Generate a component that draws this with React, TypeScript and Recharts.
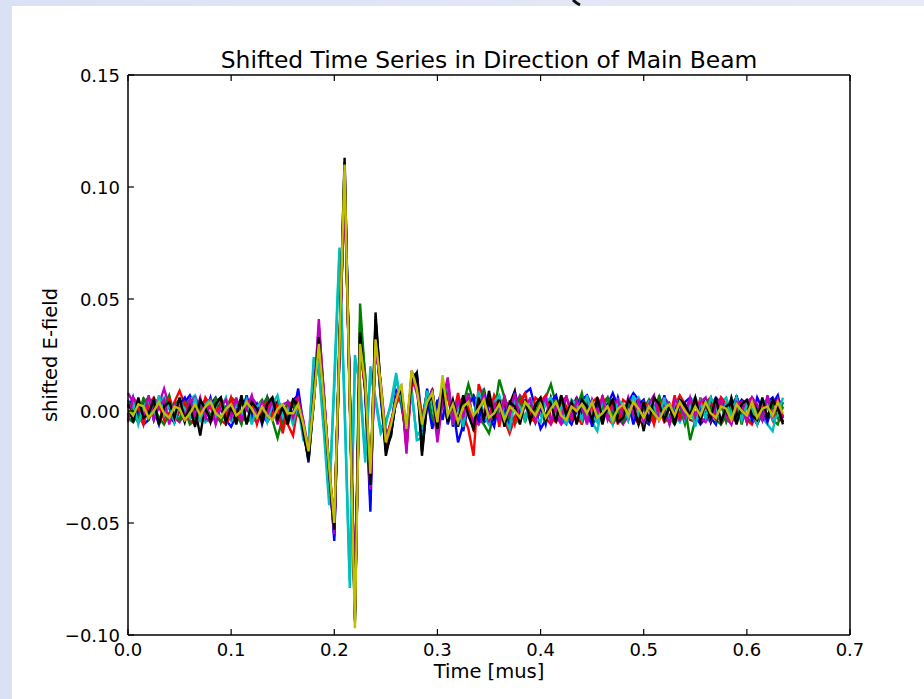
import { LineChart, Line, XAxis, YAxis } from 'recharts';

// sampling step, in ns (axis is in mus)
const SAMPLE_STEP_NS = 5;

// shifted E-field per antenna, in units of 0.001
const blueTrace = [
  3, 5, -1, -6, -4, 2, 6, 1, -3, -5, 0, 4, 7, 2, -4, -2,
  3, 6, 1, -4, -7, -2, 4, 5, -1, -3, 2, 6, 0, -5, -2, 4,
  -2, 10, -6, -23, 4, 34, 6, -26, -58, 27, 104, 8, -90, 30, 10, -45,
  40, 8, -16, -10, 5, 6, -9, 12, 17, -4, 6, -8, 3, 10, -6, 2,
  -14, -6, 4, 7, 2, -5, -3, 3, 6, -1, -7, -4, 2, 8, 10, 1,
  -8, -4, 3, 6, 1, -3, -6, 0, 5, 7, 2, -4, -2, 3, 8, 2,
  -3, 4, 8, 5, -4, -6, 1, 6, 2, -3, -5, -1, 4, 6, -2, -6,
  -3, 2, 6, 3, -4, -5, 0, 5, 3, -2, -6, -1, 4, 6, 1, -3,
];

const greenTrace = [
  -3, -5, 0, 4, 6, 2, -3, -6, -1, 3, 5, 1, -6, -4, 2, 5,
  3, -2, -5, 1, 6, 4, -2, -5, -3, 2, 5, 0, -4, -12, -3, 2,
  2, 5, -7, -19, 6, 33, 4, -27, -55, 29, 106, 7, -90, 48, 14, -32,
  32, 9, -12, -6, 8, 3, -11, 13, 10, -8, 4, 9, -7, 5, -4, 3,
  -6, 3, 12, 4, -3, -6, -10, -1, 14, 6, -2, -5, 1, 4, -3, -1,
  2, 6, 12, 3, -5, -2, 4, 1, 8, -2, -6, -3, 3, 5, -1, -5,
  -2, 3, 6, 2, -4, -5, 1, 5, 3, -3, -6, -1, 2, -13, -4, 3,
  5, 1, -4, -6, -2, 3, 6, 2, -3, -5, 0, 5, 3, -4, -6, 2,
];

const redTrace = [
  2, -2, -5, -3, 3, 6, 2, -3, -1, 4, 9, 3, -4, -6, 0, 4,
  5, 1, -4, -6, -2, 3, 5, 1, -3, -5, 0, 4, 6, 2, -4, -6,
  -11, 3, -9, -21, 5, 30, 3, -25, -52, 26, 100, 9, -88, 32, 11, -30,
  30, 11, -13, -7, 6, 9, -14, 13, 10, -3, 8, 4, -9, 7, 12, -5,
  6, -2, -8, -20, 12, 5, -3, 7, 2, -4, -10, -3, 5, 3, -2, 6,
  4, -3, -6, -1, 5, 6, 1, -4, -5, 0, 4, 6, 2, -3, -6, -2,
  5, 3, -2, -6, -3, 4, 6, 1, -5, -3, 2, 7, 3, -4, -5, 1,
  4, 6, -1, -5, -3, 2, 5, 1, -4, -6, 0, 3, 5, 2, -3, -5,
];

const cyanTrace = [
  4, 1, -3, -5, 0, 4, 3, 6, 1, -4, -3, 2, 5, 7, 1, -5,
  -3, 2, 5, 1, -4, -2, 3, 6, -1, -5, -2, 4, 5, -1, -3, 2,
  -3, 2, -13, -16, 24, 18, -10, -42, 15, 73, 0, -79, 25, 10, -23, 20,
  4, -10, -6, 4, 17, 2, -8, 10, -13, -12, 5, 8, -6, 11, -4, 3,
  -5, -1, 4, 6, 2, -3, -5, 0, 4, 3, -2, -6, -3, 3, 5, 1,
  -2, 3, 5, 2, -4, -6, 1, 4, 3, -2, -5, -9, 2, 5, 1, -3,
  -5, -2, 3, 6, 1, -3, -4, 2, 5, 3, -2, -5, 0, 4, 6, 1,
  -3, -5, 1, 4, 6, -1, -4, -2, 3, 5, 1, -3, -6, -9, 2, 4,
];

const magentaTrace = [
  8, 4, -2, -4, 1, 5, 3, 10, 2, -3, -5, -1, 4, 6, 1, -3,
  -5, -2, 3, 5, 1, -4, -3, 2, 6, 3, -2, -5, -1, 4, 2, -2,
  4, 3, -6, -17, 3, 41, 5, -28, -54, 27, 105, 6, -88, 26, 12, -38,
  30, 12, -12, -5, 4, 10, -19, 18, 11, -2, 5, 7, -14, 4, 15, -4,
  3, 6, 2, -4, -6, -1, 5, 4, -2, -5, -3, 2, 7, 4, -2, -5,
  1, 5, 3, -2, -6, -3, 2, 6, 1, -4, -5, 0, 4, 6, 2, -3,
  -6, -2, 4, 5, 1, -3, -5, 2, 6, 3, -2, -4, 1, 5, 3, -3,
  -5, -1, 3, 6, 2, -3, -5, 0, 4, 6, 1, -4, -3, 2, 5, 3,
];

const blackTrace = [
  -2, 4, -3, 2, 5, -4, 3, -2, 6, -3, 2, -5, 4, 1, -11, 3,
  -5, 4, 6, -3, 2, -6, 5, 3, -4, 2, -3, 6, -2, 4, -5, 3,
  2, 5, -7, -20, 4, 30, 5, -26, -52, 30, 113, 5, -93, 37, 13, -36,
  44, 10, -20, -9, 5, 7, -10, 15, 17, -20, 4, 9, -6, 8, -5, 2,
  -7, 5, 3, -6, 8, -3, 4, -4, 6, -5, 3, 9, -3, 4, -5, 2,
  4, -3, 6, -2, 3, -5, 2, 5, -4, 3, -2, 4, -6, 3, 5, -3,
  2, -4, 5, 3, -9, 4, -3, 6, -2, 3, -5, 4, 2, -3, 5, -4,
  3, -5, 2, 4, -3, 6, -2, 3, -5, 4, 1, -4, 5, -3, 2, -6,
];

const blueTrace2 = [
  -4, 6, -2, 5, -3, 1, -6, 4, 2, -5, 3, 6, -2, -4, 5, -1,
  6, -3, 2, -5, 4, 1, -4, 7, -2, 3, -6, 2, 5, -3, 1, -4,
  5, 7, -10, -21, 8, 32, 2, -28, -56, 25, 107, 10, -91, 34, 8, -40,
  36, 6, -17, -8, 9, 4, -12, 14, 15, -9, 10, -6, 5, -4, 9, -7,
  4, -9, 3, 6, -5, 10, -2, -7, 5, 3, -6, 7, 1, -4, 6, -5,
  2, -6, 4, 7, -3, 1, -5, 6, -2, 4, -7, 3, 5, -1, -4, 6,
  -2, 4, -6, 3, 5, -4, 2, -3, 7, -5, 1, 4, -3, 6, -6, 2,
  5, -3, -6, 4, 2, -5, 7, -2, 3, -4, 6, 1, -5, 3, 7, -3,
];

const greenTrace2 = [
  5, -1, -4, 6, -3, 4, -5, 2, 7, -2, -4, 3, 5, -6, 1, 4,
  -3, 6, -5, 2, 4, -1, -6, 3, 5, -4, 2, 6, -3, 1, -7, 4,
  3, -2, -5, -22, 3, 36, 7, -29, -53, 31, 103, 6, -89, 40, 16, -34,
  35, 7, -9, -11, 7, 5, -13, 16, 13, -5, 9, -3, -8, 6, 10, -6,
  5, -4, 8, -7, 3, 9, -6, 5, -3, 7, -4, 2, 6, -5, 3, -2,
  6, -5, 3, -2, 7, -4, 1, 5, -6, 3, 4, -3, 2, 6, -4, 1,
  -5, 3, 6, -4, 1, 5, -3, 7, -2, -5, 4, 2, -6, 3, 5, -3,
  2, 6, -4, 3, -5, 1, 4, -6, 3, 5, -2, -4, 6, 2, -3, 4,
];

const redTrace2 = [
  -3, 5, 2, -6, 4, -2, 3, -4, 6, -5, 1, 4, -3, 5, -2, 6,
  2, -5, 4, -3, 6, -1, -4, 5, 3, -6, 2, 4, -2, 3, -10, 2,
  4, 6, -8, -20, 7, 31, 6, -24, -51, 28, 102, 8, -87, 29, 9, -33,
  33, 10, -15, -4, 3, 8, -16, 11, 14, -7, 7, 5, -10, 9, 6, -3,
  8, -5, 2, -9, 7, 4, -3, 6, -7, 5, 2, -6, 4, 8, -3, -5,
  4, 7, -3, -5, 6, 2, -4, 3, -6, 5, 1, -3, 7, -2, 4, -6,
  3, -2, 6, -5, 4, 2, -6, 3, 5, -4, 7, -3, 1, 4, -5, 6,
  -2, 5, -4, 6, 3, -5, 2, 4, -3, 6, -6, 3, 2, -4, 5, -3,
];

const cyanTrace2 = [
  -3, 4, -6, 2, 5, -4, 7, -2, 3, -5, 4, 1, -3, 6, -4, 3,
  5, -3, 1, 6, -4, 3, -2, 5, -6, 2, 4, -5, 3, 7, -3, 1,
  -6, 4, -10, -14, 20, 22, -6, -38, 10, 70, 4, -76, 22, 13, -20, 16,
  6, -8, -4, 2, 14, 5, -6, 8, -11, -8, 9, 3, -9, 6, 12, -6,
  2, -7, 6, -4, 9, -2, -6, 4, 7, -3, -8, 5, 2, -4, 6, -3,
  -5, 4, 6, -3, 2, -6, 5, 3, -4, 7, -2, -5, 4, 1, -6, 5,
  3, -4, 7, -2, -5, 4, 2, -3, 6, -6, 3, 5, -4, 2, -7, 4,
  -3, 6, 2, -5, 4, -2, 6, -4, 3, 1, -6, 5, 3, -4, -2, 6,
];

const magentaTrace2 = [
  -5, 6, 3, -2, 7, -4, 2, 5, -6, 3, 1, -4, 5, -2, 6, -3,
  4, -6, 2, 5, -3, 6, -4, 1, 7, -3, 4, -2, 5, -6, 3, 4,
  -3, 5, -4, -18, 5, 38, 8, -27, -55, 26, 102, 9, -86, 28, 13, -35,
  28, 13, -11, -8, 7, 11, -17, 16, 8, -5, 3, 10, -12, 6, 13, -6,
  5, -3, 8, -6, 2, 7, -5, 3, -4, 6, -2, 8, -5, 3, 5, -4,
  3, 6, -5, 2, -4, 7, -3, 4, 2, -6, 5, -1, 6, -4, 2, 5,
  -3, 6, -2, 4, -5, 3, 7, -4, 1, -6, 5, 3, -3, 6, -2, 4,
  6, -4, 2, 5, -3, -6, 4, 2, -5, 6, 3, -4, 7, -2, 4, -5,
];

const blackTrace2 = [
  3, -5, 6, -3, -1, 5, -6, 2, 4, -3, 6, -4, 2, -7, 5, 1,
  -4, 3, 6, -5, 2, -3, 7, -6, 4, 1, -5, 3, 6, -4, 2, -6,
  5, 3, -9, -22, 6, 33, 3, -27, -53, 29, 111, 7, -94, 35, 10, -33,
  41, 11, -18, -11, 6, 9, -8, 14, 16, -18, 3, 7, -8, 10, -3, 5,
  -5, 7, -2, -8, 6, -4, 9, -3, 5, -7, 4, 2, -6, 5, -4, 3,
  6, -4, 3, -5, 7, -2, 4, -6, 5, 2, -4, 6, -3, 1, 5, -5,
  -3, 5, 2, -6, 4, -5, 6, 3, -4, 2, -6, 5, 3, -2, 6, -4,
  4, -3, 6, -5, 2, 4, -6, 3, 5, -2, -4, 6, -3, 5, 1, -5,
];

const yellowTrace = [
  1, -2, 3, 2, -3, 0, 4, -1, -3, 2, 1, -4, -1, 3, -2, 2,
  4, -1, -3, 1, 3, -2, 0, 4, 1, -3, 2, -2, -4, 1, 3, -1,
  -1, 3, -6, -18, 4, 30, 4, -25, -50, 28, 110, 4, -97, 30, 12, -28,
  32, 12, -14, -6, 5, 12, -8, 18, 10, -6, 4, 8, -5, 16, -2, 3,
  -5, 2, 4, -2, 1, 5, -3, -1, 3, -4, 2, 0, -3, 4, 1, -2,
  3, -3, 1, 4, -2, -4, 2, 0, 3, -1, 4, -3, -1, 2, -4, 1,
  3, -2, 4, 1, -3, 2, -1, -4, 1, 3, -2, 4, 0, -3, 2, -2,
  4, -1, -3, 2, 1, -4, 3, 0, -2, 4, -3, 1, 2, -2, 4, -1,
];

const X_TICKS = [0, 0.1, 0.2, 0.3, 0.4, 0.5, 0.6, 0.7];
const Y_TICKS = [-0.1, -0.05, 0, 0.05, 0.1, 0.15];

const SERIES = [
  { key: 'b1', color: '#0000ff', values: blueTrace },
  { key: 'g1', color: '#008000', values: greenTrace },
  { key: 'r1', color: '#ff0000', values: redTrace },
  { key: 'c1', color: '#00bfbf', values: cyanTrace },
  { key: 'm1', color: '#bf00bf', values: magentaTrace },
  { key: 'k1', color: '#000000', values: blackTrace },
  { key: 'b2', color: '#0000ff', values: blueTrace2 },
  { key: 'g2', color: '#008000', values: greenTrace2 },
  { key: 'r2', color: '#ff0000', values: redTrace2 },
  { key: 'c2', color: '#00bfbf', values: cyanTrace2 },
  { key: 'm2', color: '#bf00bf', values: magentaTrace2 },
  { key: 'k2', color: '#000000', values: blackTrace2 },
  { key: 'y1', color: '#bfbf00', values: yellowTrace },
];

const data = blueTrace.map((_, i) => {
  const row: Record<string, number> = { t: (i * SAMPLE_STEP_NS) / 1000 };
  SERIES.forEach((s) => {
    row[s.key] = s.values[i] / 1000;
  });
  return row;
});

const FONT = '"DejaVu Sans", sans-serif';
const TICK_LEN = 6;
const TICK_FONT = 18;

const fmtY = (v: number) => v.toFixed(2).replace('-', '\u2212');

const BottomTick = (props: any) => {
  const { x, y, payload } = props;
  return (
    <g>
      <line x1={x} y1={y} x2={x} y2={y - TICK_LEN} stroke="#000" strokeWidth={1.2} />
      <text x={x} y={y + 21} textAnchor="middle" fontSize={TICK_FONT} fontFamily={FONT} fill="#000">
        {Number(payload.value).toFixed(1)}
      </text>
    </g>
  );
};

const TopTick = (props: any) => {
  const { x, y } = props;
  return <line x1={x} y1={y} x2={x} y2={y + TICK_LEN} stroke="#000" strokeWidth={1.2} />;
};

const LeftTick = (props: any) => {
  const { x, y, payload } = props;
  return (
    <g>
      <line x1={x} y1={y} x2={x + TICK_LEN} y2={y} stroke="#000" strokeWidth={1.2} />
      <text x={x - 8} y={y + 7} textAnchor="end" fontSize={TICK_FONT} fontFamily={FONT} fill="#000">
        {fmtY(Number(payload.value))}
      </text>
    </g>
  );
};

const RightTick = (props: any) => {
  const { x, y } = props;
  return <line x1={x} y1={y} x2={x - TICK_LEN} y2={y} stroke="#000" strokeWidth={1.2} />;
};

const spine = { stroke: '#000', strokeWidth: 1.5 };

export default function App() {
  return (
    <div
      style={{
        position: 'absolute',
        left: 0,
        top: 0,
        width: 924,
        height: 699,
        overflow: 'hidden',
        background: 'linear-gradient(90deg, #dbe1f4, #e7eaf7)',
      }}
    >
      <div style={{ position: 'absolute', left: 12, top: 6, right: 0, bottom: 0, background: '#fff' }} />
      <div style={{ position: 'absolute', left: 0, top: 0 }}>
        <LineChart width={924} height={699} data={data} margin={{ top: 74, right: 73, left: 68, bottom: 34 }}>
          <XAxis
            dataKey="t"
            type="number"
            domain={[0, 0.7]}
            ticks={X_TICKS}
            interval={0}
            height={30}
            tickSize={0.001}
            tickMargin={0}
            tickLine={false}
            axisLine={spine}
            tick={<BottomTick />}
          />
          <XAxis
            xAxisId="top"
            orientation="top"
            dataKey="t"
            type="number"
            domain={[0, 0.7]}
            ticks={X_TICKS}
            interval={0}
            height={1}
            tickSize={0.001}
            tickMargin={0}
            tickLine={false}
            axisLine={spine}
            tick={<TopTick />}
          />
          <YAxis
            type="number"
            domain={[-0.1, 0.15]}
            ticks={Y_TICKS}
            interval={0}
            width={60}
            tickSize={0.001}
            tickMargin={0}
            tickLine={false}
            axisLine={spine}
            tick={<LeftTick />}
          />
          <YAxis
            yAxisId="right"
            orientation="right"
            type="number"
            domain={[-0.1, 0.15]}
            ticks={Y_TICKS}
            interval={0}
            width={1}
            tickSize={0.001}
            tickMargin={0}
            tickLine={false}
            axisLine={spine}
            tick={<RightTick />}
          />
          {SERIES.map((s) => (
            <Line
              key={s.key}
              dataKey={s.key}
              type="linear"
              stroke={s.color}
              strokeWidth={2.4}
              dot={false}
              activeDot={false}
              isAnimationActive={false}
            />
          ))}
        </LineChart>
      </div>
      <svg
        width={924}
        height={699}
        style={{ position: 'absolute', left: 0, top: 0, pointerEvents: 'none' }}
      >
        <path d="M573,0 Q576,3 580,5" stroke="#111" strokeWidth={3} fill="none" />
        <text x={489} y={68} textAnchor="middle" fontSize={23.4} fontFamily={FONT} fill="#000">
          Shifted Time Series in Direction of Main Beam
        </text>
        <text x={489} y={678} textAnchor="middle" fontSize={19.5} fontFamily={FONT} fill="#000">
          Time [mus]
        </text>
        <text
          x={57}
          y={355}
          textAnchor="middle"
          fontSize={19.5}
          fontFamily={FONT}
          fill="#000"
          transform="rotate(-90 57 355)"
        >
          shifted E-field
        </text>
      </svg>
    </div>
  );
}
